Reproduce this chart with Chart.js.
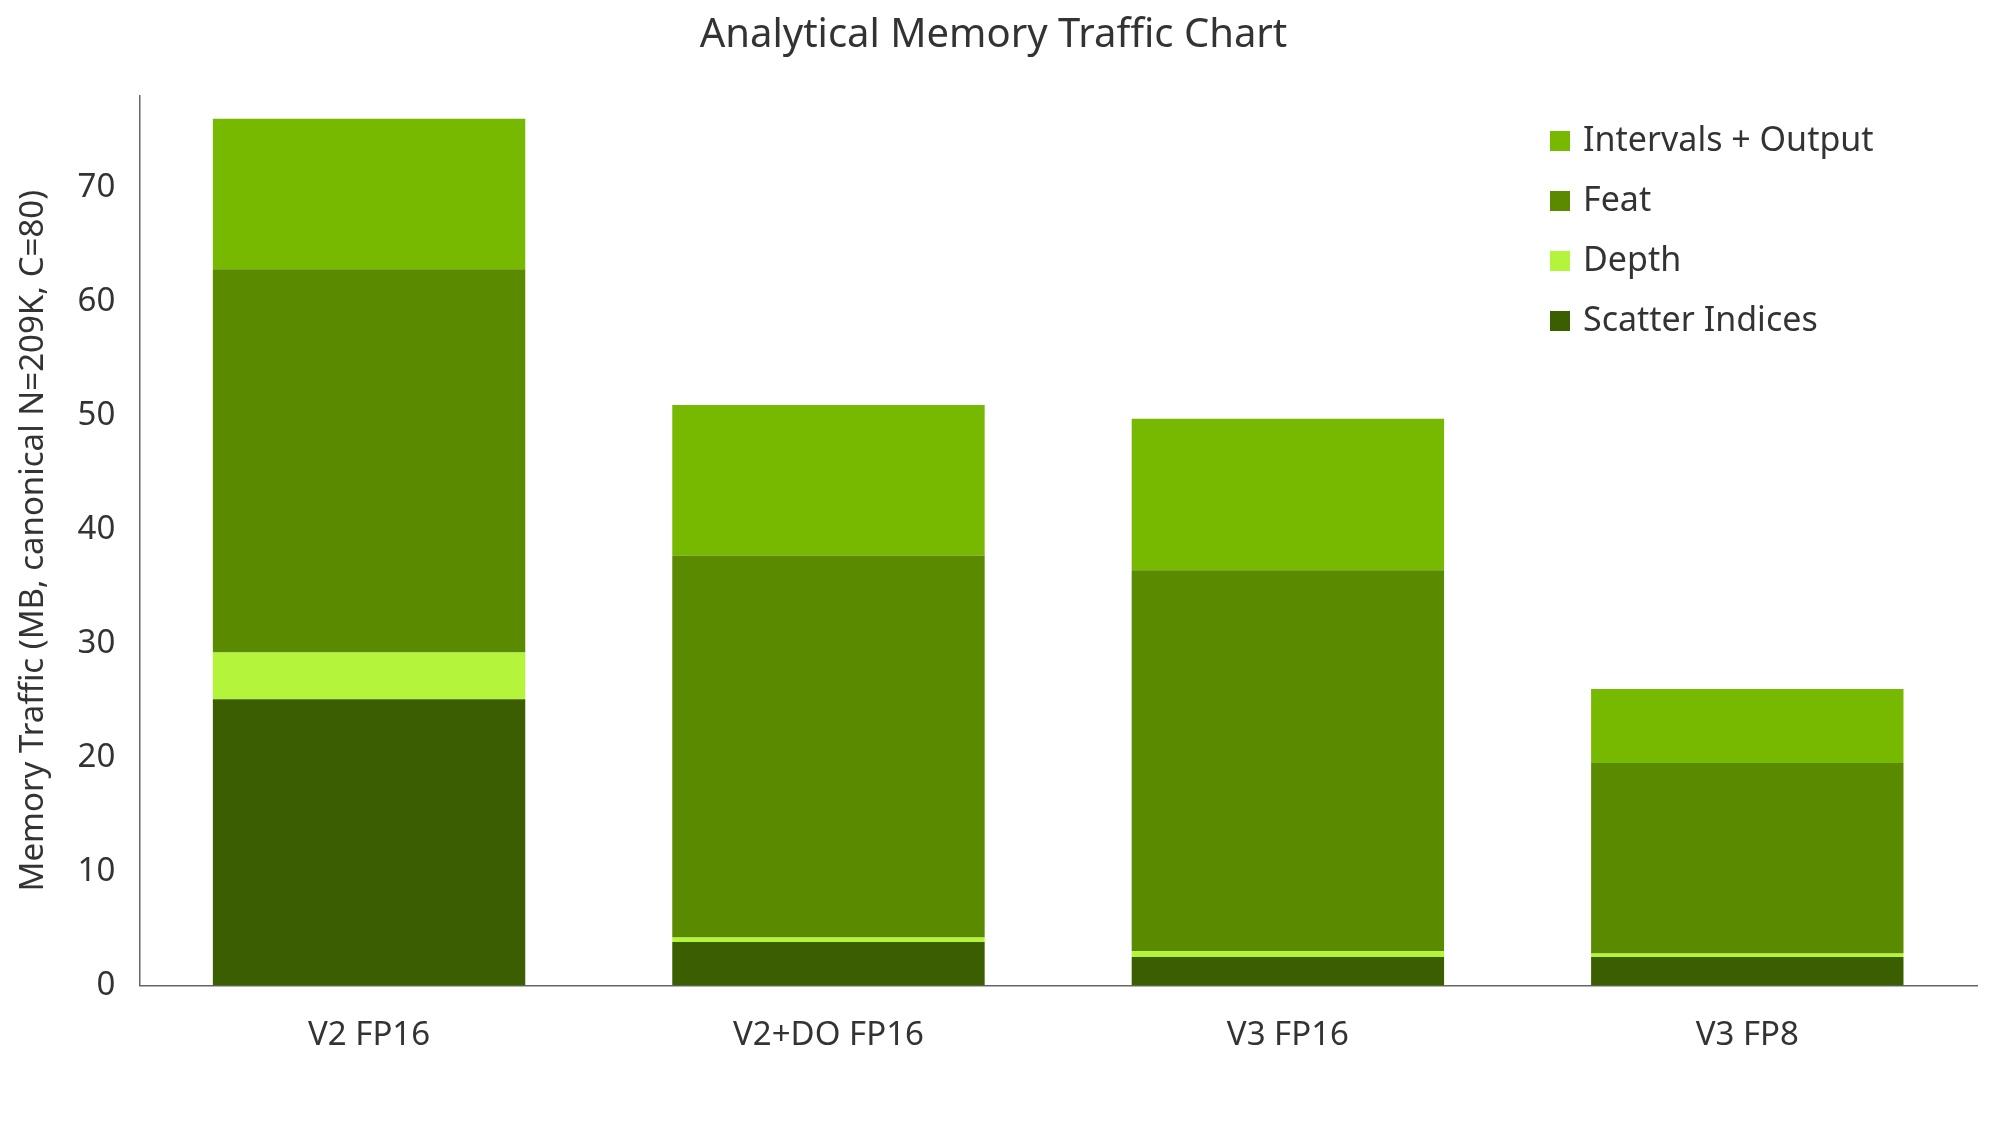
<!DOCTYPE html>
<html>
<head>
<meta charset="utf-8">
<script src="https://cdn.jsdelivr.net/npm/chart.js@4"></script>
<style>
  html, body { margin: 0; padding: 0; background: #fff; }
  #wrap { width: 1999px; height: 1125px; }
</style>
</head>
<body>
<div id="wrap"><canvas id="chart" width="1999" height="1125"></canvas></div>
<script>
const categories = ['V2 FP16', 'V2+DO FP16', 'V3 FP16', 'V3 FP8'];
const scatterIndices = [25.1, 3.8, 2.5, 2.5];
const depth = [4.1, 0.4, 0.5, 0.3];
const feat = [33.6, 33.5, 33.4, 16.7];
const intervalsOutput = [13.2, 13.2, 13.3, 6.5];
const yTicks = [0, 10, 20, 30, 40, 50, 60, 70];

const FONT = '"Noto Sans", Inter, sans-serif';

// legend drawn inside the plot, top right, top-most series first
const insideLegend = {
    id: 'insideLegend',
    afterDraw(chart) {
        const ctx = chart.ctx;
        const sets = chart.data.datasets.slice().reverse();
        ctx.save();
        ctx.font = `34px ${FONT}`;
        ctx.textBaseline = 'middle';
        sets.forEach((ds, i) => {
            const y = 141 + i * 60;
            ctx.fillStyle = ds.backgroundColor;
            ctx.fillRect(1550, y - 10, 20, 20);
            ctx.fillStyle = '#333';
            ctx.fillText(ds.label, 1583, y);
        });
        ctx.restore();
    }
};

new Chart(document.getElementById('chart').getContext('2d'), {
    type: 'bar',
    data: {
        labels: categories,
        datasets: [
            { label: 'Scatter Indices', data: scatterIndices, backgroundColor: '#3b5e00' },
            { label: 'Depth', data: depth, backgroundColor: '#b4f53c' },
            { label: 'Feat', data: feat, backgroundColor: '#5a8a00' },
            { label: 'Intervals + Output', data: intervalsOutput, backgroundColor: '#76b900' }
        ]
    },
    options: {
        responsive: false,
        animation: false,
        layout: { padding: { left: 10, right: 22, top: 0, bottom: 40 } },
        datasets: { bar: { categoryPercentage: 0.68, barPercentage: 1.0, borderWidth: 0 } },
        plugins: {
            legend: { display: false },
            tooltip: { enabled: false },
            title: {
                display: true,
                text: 'Analytical Memory Traffic Chart',
                color: '#333',
                font: { family: FONT, size: 40, weight: 'normal' },
                padding: { top: 12, bottom: 36 }
            }
        },
        scales: {
            x: {
                stacked: true,
                grid: { display: false, drawTicks: false },
                border: { color: '#666', width: 1.5 },
                ticks: { color: '#333', font: { family: FONT, size: 33 }, padding: 30 }
            },
            y: {
                stacked: true,
                min: 0,
                max: 78,
                afterBuildTicks: axis => { axis.ticks = yTicks.map(v => ({ value: v })); },
                grid: { display: false, drawTicks: true, tickLength: 10, tickColor: '#666' },
                border: { color: '#666', width: 1.5 },
                ticks: { color: '#333', font: { family: FONT, size: 33 }, padding: 14 },
                title: {
                    display: true,
                    text: 'Memory Traffic (MB, canonical N=209K, C=80)',
                    color: '#333',
                    font: { family: FONT, size: 33 },
                    padding: { bottom: 10 }
                }
            }
        }
    },
    plugins: [insideLegend]
});
</script>
</body>
</html>
